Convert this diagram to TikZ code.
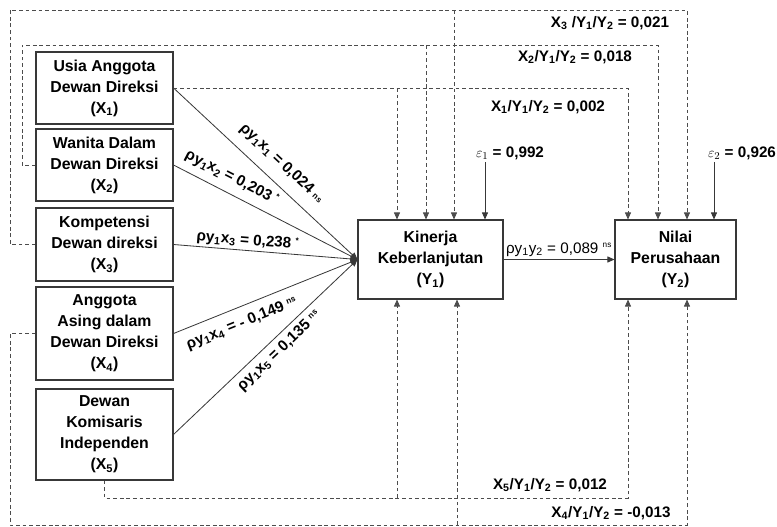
\documentclass[tikz,border=0pt]{standalone}
\usepackage{fontspec}
\setmainfont{Liberation Sans}
\usetikzlibrary{arrows.meta}
\newcommand{\linecolor}{black!78}
\newcommand{\dashcolor}{black!70}
\newcommand{\px}{0.03cm}
\newcommand{\ns}{\textsuperscript{\fontsize{7}{7}\selectfont ns}}
\newcommand{\sig}{\textsuperscript{\fontsize{7}{7}\selectfont *}}
\tikzset{
  box/.style={draw=\linecolor, line width=0.9pt, minimum width=137*\px, align=center, inner sep=0pt, font=\bfseries\fontsize{13.5}{18}\selectfont},
  koef/.style={inner sep=1pt, font=\bfseries\fontsize{13}{15}\selectfont},
  lbl/.style={inner sep=0pt, font=\bfseries\fontsize{13}{15}\selectfont},
  direct/.style={draw=\linecolor, line width=0.7pt, ->},
  indirect/.style={draw=\dashcolor, line width=0.7pt, dash pattern=on 3.2pt off 2.4pt}
}

\begin{document}
\begin{tikzpicture}[x=\px, y=-\px, >={Triangle[length=2.1mm, width=1.8mm]}]
\useasboundingbox (0,0) rectangle (777,526);
\node[box, minimum height=72*\px] (X1) at (104.5, 88) {Usia Anggota\\Dewan Direksi\\(X\textsubscript{1})};
\node[box, minimum height=72*\px] (X2) at (104.5, 165) {Wanita Dalam\\Dewan Direksi\\(X\textsubscript{2})};
\node[box, minimum height=73*\px] (X3) at (104.5, 244.5) {Kompetensi\\Dewan direksi\\(X\textsubscript{3})};
\node[box, minimum height=93*\px] (X4) at (104.5, 333.5) {Anggota\\Asing dalam\\Dewan Direksi\\(X\textsubscript{4})};
\node[box, minimum height=91*\px] (X5) at (104.5, 434.5) {Dewan\\Komisaris\\Independen\\(X\textsubscript{5})};
\node[box, minimum width=145*\px, minimum height=79*\px] (Y1) at (430.5, 259.5) {Kinerja\\Keberlanjutan\\(Y\textsubscript{1})};
\node[box, minimum width=121*\px, minimum height=79*\px] (Y2) at (675.5, 259.5) {Nilai\\Perusahaan\\(Y\textsubscript{2})};
%direct X -> Y1
\draw[direct] (X1.east) -- (Y1.west) node[koef, sloped, above=3mm, pos=0.52] {ρy\textsubscript{1}x\textsubscript{1} = 0,024 {\fontsize{7}{7}\selectfont ns}};
\draw[direct] (X2.east) -- (Y1.west) node[koef, sloped, above=2mm, pos=0.28] {ρy\textsubscript{1}x\textsubscript{2} = 0,203 \sig};
\draw[direct] (X3.east) -- (Y1.west) node[koef, sloped, above=0.3mm, pos=0.40] {ρy\textsubscript{1}x\textsubscript{3} = 0,238 \sig};
\draw[direct] (X4.east) -- (Y1.west) node[koef, sloped, below=2.4mm, pos=0.34] {ρy\textsubscript{1}x\textsubscript{4} = - 0,149 \ns};
\draw[direct] (X5.east) -- (Y1.west) node[koef, sloped, below=1.2mm, pos=0.53] {ρy\textsubscript{1}x\textsubscript{5} = 0,135 \ns};
%Y1 -> Y2
\draw[direct] (Y1.east) -- (Y2.west) node[midway, above=0.5mm, inner sep=1pt, font=\fontsize{13}{15}\selectfont] {ρy\textsubscript{1}y\textsubscript{2} = 0,089 \ns};
%errors
\node[lbl] (eps1) at (510, 153) {$\varepsilon_1$ = 0,992};
\node[lbl] (eps2) at (742, 153) {$\varepsilon_2$ = 0,926};
\coordinate (e1) at (485, 162);
\coordinate (e2) at (714, 162);
\draw[direct] (e1) -- (e1 |- Y1.north);
\draw[direct] (e2) -- (e2 |- Y2.north);
%X3 via Y1
\coordinate (t3) at (10, 10);
\coordinate (c3) at (687, 10);
\coordinate (b3) at (454, 10);
\draw[indirect, ->] (X3.west) -| (t3) -| (c3 |- Y2.north);
\draw[indirect, ->] (b3) -- (b3 |- Y1.north);
\node[lbl] (m3) at (610, 23) {X\textsubscript{3} /Y\textsubscript{1}/Y\textsubscript{2} = 0,021};
%X2 via Y1
\coordinate (t2) at (22, 45);
\coordinate (c2) at (658, 45);
\coordinate (b2) at (426, 45);
\draw[indirect, ->] (X2.west) -| (t2) -| (c2 |- Y2.north);
\draw[indirect, ->] (b2) -- (b2 |- Y1.north);
\node[lbl] (m2) at (575, 57) {X\textsubscript{2}/Y\textsubscript{1}/Y\textsubscript{2} = 0,018};
%X1 via Y1
\coordinate (c1) at (628, 88);
\coordinate (b1) at (397, 88);
\draw[indirect, ->] (X1.east) -| (c1 |- Y2.north);
\draw[indirect, ->] (b1) -- (b1 |- Y1.north);
\node[lbl] (m1) at (548, 107) {X\textsubscript{1}/Y\textsubscript{1}/Y\textsubscript{2} = 0,002};
%X5 via Y1
\coordinate (c5) at (628, 498);
\coordinate (b5) at (397, 498);
\draw[indirect, ->] (X5.south) |- (c5) -- (c5 |- Y2.south);
\draw[indirect, ->] (b5) -- (b5 |- Y1.south);
\node[lbl] (m5) at (550, 485) {X\textsubscript{5}/Y\textsubscript{1}/Y\textsubscript{2} = 0,012};
%X4 via Y1
\coordinate (t4) at (10, 525);
\coordinate (c4) at (687, 525);
\coordinate (b4) at (457, 525);
\draw[indirect, ->] (X4.west) -| (t4) -- (c4) -- (c4 |- Y2.south);
\draw[indirect, ->] (b4) -- (b4 |- Y1.south);
\node[lbl] (m4) at (611, 513) {X\textsubscript{4}/Y\textsubscript{1}/Y\textsubscript{2} = -0,013};
\end{tikzpicture}
\end{document}
